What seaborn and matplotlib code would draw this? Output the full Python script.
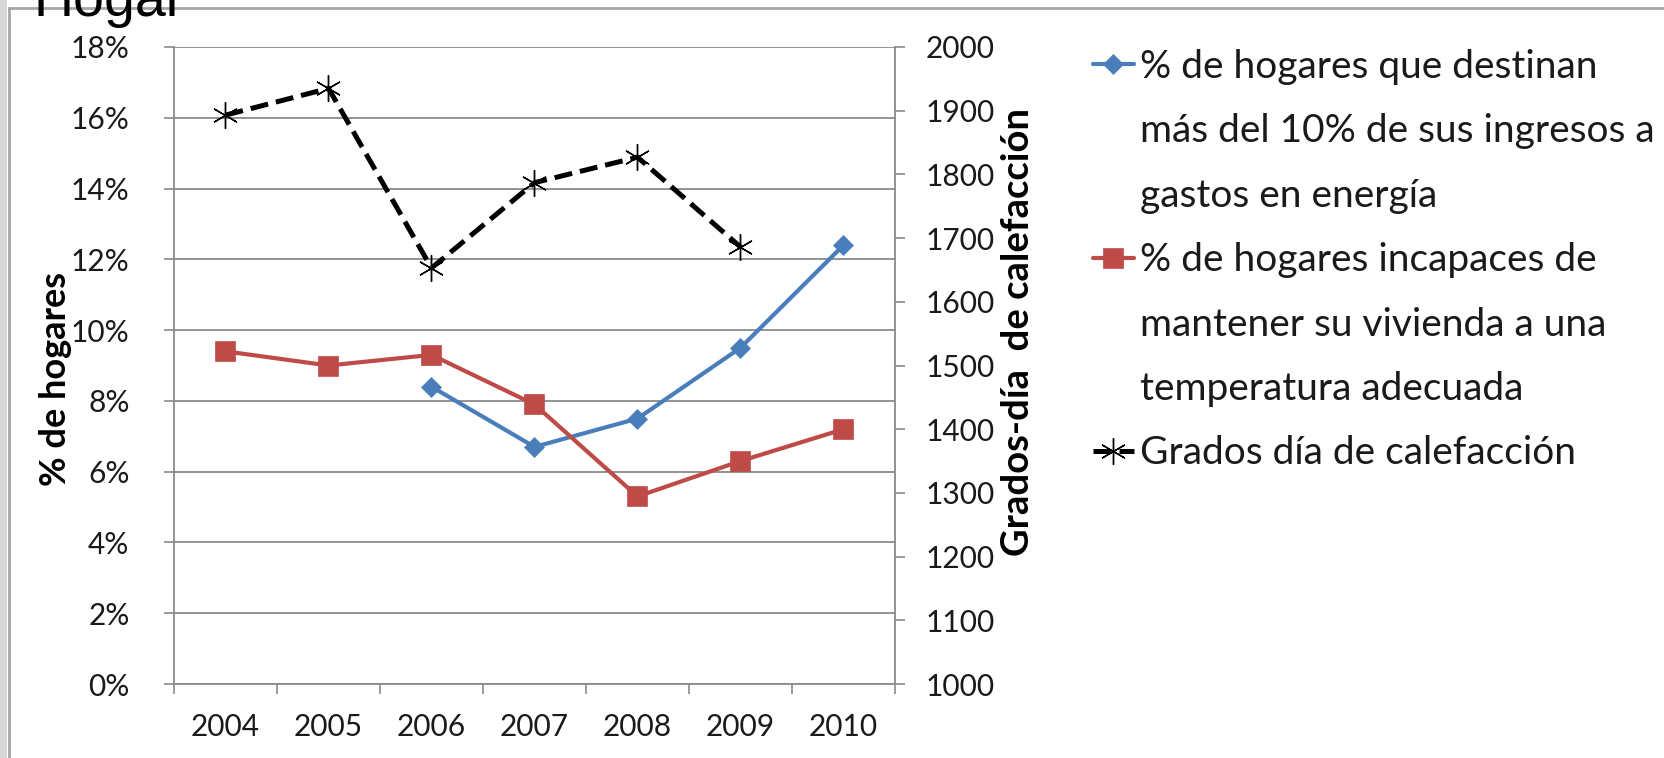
import numpy as np
import pandas as pd
import matplotlib
matplotlib.use("Agg")
import matplotlib.pyplot as plt
import seaborn as sns
from matplotlib.lines import Line2D
from matplotlib.patches import Rectangle

# ---------------- data ----------------
years = [2004, 2005, 2006, 2007, 2008, 2009, 2010]
pct_gasto_energia = [np.nan, np.nan, 8.4, 6.7, 7.5, 9.5, 12.4]
pct_incapaces = [9.4, 9.0, 9.3, 7.9, 5.3, 6.3, 7.2]
grados_dia = [1893, 1935, 1653, 1787, 1827, 1686, np.nan]

label_gasto = ["% de hogares que destinan", "más del 10% de sus ingresos a", "gastos en energía"]
label_incap = ["% de hogares incapaces de", "mantener su vivienda a una", "temperatura adecuada"]
label_grados = ["Grados día de calefacción"]

left_ticks = [0, 2, 4, 6, 8, 10, 12, 14, 16, 18]
right_ticks = [1000, 1100, 1200, 1300, 1400, 1500, 1600, 1700, 1800, 1900, 2000]
left_axis_title = "% de hogares"
right_axis_title = "Grados-día  de calefacción"
title_fragment = "Hogar"

df = pd.DataFrame({"year": years, "gasto": pct_gasto_energia,
                   "incap": pct_incapaces, "grados": grados_dia})

# ---------------- style ----------------
sns.set_theme(style="white")
plt.rcParams["font.family"] = ["Lato", "DejaVu Sans"]

BLUE = "#4a7ebb"
RED = "#be4b48"
GRAY = "#8a8a8a"
TXT = "#1a1a1a"

W, H = 1664, 758
fig = plt.figure(figsize=(W / 100, H / 100), dpi=100)
fig.patch.set_facecolor("white")

# frame / background decorations
fig.patches.append(Rectangle((0, 0), 7 / W, 1, transform=fig.transFigure,
                             facecolor="#d6d6d6", edgecolor="none", zorder=-5))
fig.patches.append(Rectangle((9 / W, -0.05), 1.0, 1 - 8 / H + 0.05, transform=fig.transFigure,
                             facecolor="none", edgecolor="#a6a6a6", lw=2.0, zorder=-5))

TOP, BOT, LEFT, RIGHT = 47, 684, 174, 895
ax = fig.add_axes([LEFT / W, 1 - BOT / H, (RIGHT - LEFT) / W, (BOT - TOP) / H])
ax.set_facecolor("none")
ax2 = ax.twinx()

# ---------------- series ----------------
d1 = df.dropna(subset=["gasto"])
sns.lineplot(data=d1, x="year", y="gasto", ax=ax, color=BLUE, linewidth=3.0,
             marker="D", markersize=10.5, markeredgecolor=BLUE, markeredgewidth=0.5,
             label="_gasto")
h_blue = ax.lines[-1]

d2 = df.dropna(subset=["incap"])
sns.lineplot(data=d2, x="year", y="incap", ax=ax, color=RED, linewidth=3.0,
             marker="s", markersize=14, markeredgecolor=RED, markeredgewidth=0.5,
             label="_incap")
h_red = ax.lines[-1]

d3 = df.dropna(subset=["grados"])
sns.lineplot(data=d3, x="year", y="grados", ax=ax2, color="black", linewidth=3.6,
             marker=(6, 2, 0), markersize=19, markeredgecolor="black", markeredgewidth=1.0,
             label="_grados")
h_black = ax2.lines[-1]
h_black.set_linestyle((0, (3.6, 1.6)))

for a in (ax, ax2):
    lg = a.get_legend()
    if lg is not None:
        lg.remove()

# ---------------- axes ----------------
LBL = 21.5
ax.set_xlim(2003.5, 2010.5)
ax.set_xticks(np.arange(2003.5, 2011, 1.0))
ax.set_xticklabels([])
ax.set_xticks(years, minor=True)
ax.set_xticklabels([str(y) for y in years], minor=True)
ax.tick_params(axis="x", which="major", length=7, width=1.2, color=GRAY, direction="out", bottom=True)
ax.tick_params(axis="x", which="minor", length=0, pad=21, labelsize=LBL, labelcolor=TXT)

ax.set_ylim(0, 18)
ax.set_yticks(left_ticks)
ax.set_yticklabels([f"{v}%" for v in left_ticks])
ax.tick_params(axis="y", length=7, width=1.2, color=GRAY, direction="out", left=True,
               pad=25, labelsize=LBL, labelcolor=TXT)
ax.yaxis.grid(True, color=GRAY, linewidth=1.3)
ax.xaxis.grid(False)

ax2.set_ylim(1000, 2000)
ax2.set_yticks(right_ticks)
ax2.tick_params(axis="y", length=7, width=1.2, color=GRAY, direction="out", right=True,
                pad=15, labelsize=LBL, labelcolor=TXT)
ax2.grid(False)

for s in ("top", "right"):
    ax.spines[s].set_visible(False)
for s in ("left", "bottom"):
    ax.spines[s].set_color(GRAY)
    ax.spines[s].set_linewidth(1.3)
for s in ("top", "left", "bottom"):
    ax2.spines[s].set_visible(False)
ax2.spines["right"].set_color(GRAY)
ax2.spines["right"].set_linewidth(1.3)

ax.set_xlabel("")
ax.set_ylabel(left_axis_title, fontsize=26, fontweight="bold", color="black")
ax.yaxis.label.set_verticalalignment("center")
ax.yaxis.set_label_coords((56 - LEFT) / (RIGHT - LEFT), (BOT - 379) / (BOT - TOP))
ax2.set_ylabel(right_axis_title, fontsize=27.5, fontweight="bold", color="black")
ax2.yaxis.label.set_verticalalignment("center")
ax2.yaxis.set_label_coords((1018 - LEFT) / (RIGHT - LEFT), (BOT - 332) / (BOT - TOP))

# ---------------- legend ----------------
blank = Line2D([], [], linestyle="none", marker=None)
handles = [h_blue, blank, blank, h_red, blank, blank, h_black]
labels = label_gasto + label_incap + label_grados
fig.legend(handles, labels, loc="upper left", bbox_to_anchor=(1093 / W, 1 - 49 / H),
           frameon=False, fontsize=28, handlelength=1.05, handletextpad=0.15,
           labelspacing=0.73, borderpad=0, borderaxespad=0, numpoints=1,
           labelcolor=TXT)

# cut-off title fragment at the very top
fig.text(33 / W, 1 - 16 / H, title_fragment, fontsize=40, family=["Liberation Sans", "DejaVu Sans"],
         color="black", ha="left", va="baseline")

fig.savefig("out.png", dpi=100, facecolor="white")
